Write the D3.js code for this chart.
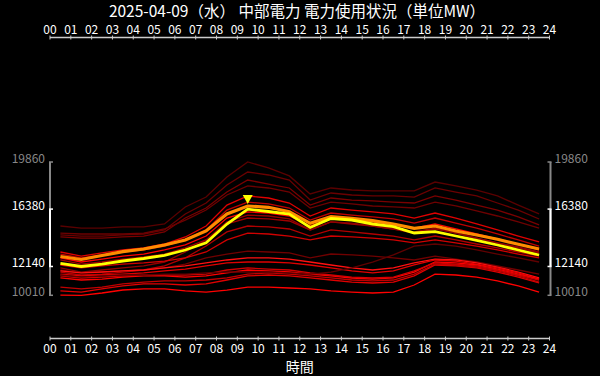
<!DOCTYPE html>
<html>
<head>
<meta charset="utf-8">
<script src="https://cdn.jsdelivr.net/npm/d3@7"></script>
<style>
  body { margin: 0; background: #000; }
  svg { display: block; font-family: "Noto Sans CJK JP", "Noto Sans", sans-serif; }
</style>
</head>
<body>
<div id="chart"></div>
<script>
const title = '2025-04-09（水） 中部電力 電力使用状況（単位MW）';
const xTitle = '時間';
const hourLabels = ['00','01','02','03','04','05','06','07','08','09','10','11','12',
  '13','14','15','16','17','18','19','20','21','22','23','24'];
// hourly values are plotted at the middle of each hour
const slots = [0.5,1.5,2.5,3.5,4.5,5.5,6.5,7.5,8.5,9.5,10.5,11.5,12.5,13.5,14.5,15.5,16.5,17.5,18.5,19.5,20.5,21.5,22.5,23.5];

// overall range (grey bracket) and today's range (white bracket)
const allRange = [10010, 19860];
const todayRange = [12140, 16380];

// today actual (yellow)
const today = [12375,12140,12320,12545,12730,12966,13358,13897,15279,16380,16202,16018,15020,15685,
  15574,15279,15079,14614,14710,14392,14060,13727,13358,12988];
// forecast (orange)
const forecast = [12877,12656,12951,13232,13432,13727,14097,14762,16018,16609,16513,16188,15331,15818,
  15700,15523,15279,14961,15131,14762,14466,14148,13779,13432];

// past days (red)
const pastDays = [
  [15130,14980,14980,15060,15060,15280,16540,17270,18750,19860,19420,18830,17500,17940,17790,17720,17720,17720,18380,18090,17790,17350,16680,16020],
  [14470,14390,14390,14470,14540,14840,16020,16830,18160,19120,18900,18530,17050,17570,17420,17350,17350,17270,17940,17640,17350,16830,16310,15650],
  [14320,14240,14240,14320,14390,14690,15720,16460,17640,18530,18230,17940,16680,17200,17050,16980,16900,16830,17350,17050,16680,16310,15800,15210],
  [14610,14540,14540,14540,14610,14910,15570,16310,17420,18090,17940,17640,16460,16900,16760,16610,16540,16460,16900,16610,16240,15870,15430,14980],
  [13210,12910,13140,13360,13510,13800,14320,15130,16680,17350,17200,16830,15870,16460,16310,16170,16020,15720,16090,15720,15280,14840,14390,13950],
  [13060,12770,12990,13210,13360,13650,14100,14840,16310,16900,16760,16460,15570,16090,15940,15800,15650,15350,15720,15350,14980,14540,14100,13650],
  [12770,12470,12690,12910,13060,13360,13730,14390,15720,16170,16090,15870,15130,15720,15570,15430,15210,14980,15280,14910,14540,14170,13800,13360],
  [12620,12320,12470,12690,12840,13060,13510,14100,15280,15720,15650,15500,14840,15430,15280,15130,14910,14690,14980,14610,14240,13880,13510,13140],
  [12030,11730,11880,12030,12180,12470,13210,14100,15430,15940,15870,15650,14840,15430,15350,15130,14910,14610,14910,14610,14240,13880,13580,13210],
  [11730,11510,11580,11730,11880,12180,12770,13650,14690,15130,15060,14910,14390,14840,14690,14540,14390,14100,14390,14100,13800,13510,13210,12910],
  [12250,12030,12180,12320,12400,12540,12770,13210,14100,14610,14540,14390,14100,14390,14320,14240,14100,13880,14100,13880,13650,13360,13060,12770],
  [11880,11660,11730,11810,11880,12030,12320,12770,13060,13280,13210,13140,12770,13060,12990,12910,12770,12620,12910,12690,12470,12180,11880,11580],
  [11810,11660,11730,11810,11880,12030,12180,12400,12620,12770,12770,12690,12470,12250,12030,11880,12030,12400,12690,12620,12400,12100,11730,11290],
  [11580,11440,11510,11580,11660,11810,11950,12180,12400,12470,12470,12400,12250,12030,11810,11660,11810,12250,12620,12540,12320,12030,11660,11210],
  [10030,10010,10180,10400,10480,10480,10330,10250,10400,10620,10620,10550,10480,10330,10250,10180,10250,10770,11580,11510,11360,11070,10700,10250],
  [10330,10250,10480,10700,10850,10850,10770,10850,11140,11440,11510,11440,11290,11140,10990,10920,10990,11440,12250,12180,12030,11730,11360,10920],
  [10620,10480,10620,10850,10990,11070,11070,11140,11290,11580,11660,11580,11440,11290,11140,11070,11140,11580,12320,12250,12100,11810,11440,10990],
  [11290,11140,11210,11360,11440,11440,11360,11440,11660,11880,11810,11730,11580,11440,11290,11210,11290,11730,12470,12400,12250,11950,11580,11210],
  [11440,11290,11360,11440,11510,11510,11510,11580,11880,12030,11950,11880,11660,11510,11360,11290,11360,11810,12400,12320,12180,11880,11510,11140],
  [11510,11360,11440,11510,11510,11580,11580,11660,11730,11730,11730,11660,11580,11730,12030,12470,12990,13650,13800,13650,13360,13060,12770,12470]
];
const pastColors = ['#5a0000','#6a0000','#7a0000','#6e0000','#e00000','#c00000','#ff0000','#a00000','#900000','#b00000',
  '#d00000','#700000','#ff1010','#e00000','#ff0000','#e00000','#c00000','#ff0000','#d00000','#600000'];

const W = 600, H = 376;
const svg = d3.select('#chart').append('svg')
  .attr('width', W)
  .attr('height', H)
  .style('background', '#000');

const x = d3.scaleLinear().domain([0, 24]).range([50, 549.5]);
const y = d3.scaleLinear().domain(allRange).range([295.3, 162]);

svg.append('text')
  .attr('x', 297).attr('y', 17)
  .attr('text-anchor', 'middle')
  .attr('fill', '#fff')
  .style('font-size', '15.5px')
  .text(title);

// hour axes
function hourAxis(g, yPos, top){
  g.append('line')
    .attr('x1', x(0)).attr('x2', x(24))
    .attr('y1', yPos).attr('y2', yPos)
    .attr('stroke', '#ccc').attr('stroke-width', 1.5);
  g.selectAll('.tk').data(hourLabels).enter().append('line')
    .attr('x1', (d,i) => x(i)).attr('x2', (d,i) => x(i))
    .attr('y1', yPos - 2).attr('y2', yPos + 2)
    .attr('stroke', '#ccc');
  g.selectAll('.lb').data(hourLabels).enter().append('text')
    .attr('x', (d,i) => x(i))
    .attr('y', top ? yPos - 3.5 : yPos + 14.5)
    .attr('text-anchor', 'middle')
    .attr('fill', '#fff')
    .style('font-size', '12px')
    .text(d => d);
}
hourAxis(svg.append('g'), 37.5, true);
hourAxis(svg.append('g'), 338.5, false);

svg.append('text')
  .attr('x', x(12)).attr('y', 371.5)
  .attr('text-anchor', 'middle')
  .attr('fill', '#fff')
  .style('font-size', '14px')
  .text(xTitle);

// range brackets on both sides
function bracket(xPos, dir, range, color, width){
  const g = svg.append('g');
  g.append('line')
    .attr('x1', xPos).attr('x2', xPos)
    .attr('y1', y(range[0])).attr('y2', y(range[1]))
    .attr('stroke', color).attr('stroke-width', width);
  range.forEach(v => {
    g.append('line')
      .attr('x1', xPos - dir).attr('x2', xPos + dir * 3)
      .attr('y1', y(v)).attr('y2', y(v))
      .attr('stroke', color).attr('stroke-width', 1.5);
    g.append('text')
      .attr('x', dir > 0 ? xPos - 5 : xPos + 4)
      .attr('y', y(v) + 1)
      .attr('text-anchor', dir > 0 ? 'end' : 'start')
      .attr('fill', color)
      .style('font-size', '12px')
      .text(v);
  });
}
bracket(50, 1, allRange, '#888', 2);
bracket(50, 1, todayRange, '#fff', 2);
bracket(550.5, -1, allRange, '#888', 2);
bracket(550.5, -1, todayRange, '#fff', 2);

const line = d3.line()
  .x((d,i) => x(slots[i]))
  .y(d => y(d));

svg.append('g').selectAll('path')
  .data(pastDays)
  .enter().append('path')
  .attr('d', line)
  .attr('fill', 'none')
  .attr('stroke', (d,i) => pastColors[i])
  .attr('stroke-width', 1.3);

svg.append('path')
  .attr('d', line(forecast))
  .attr('fill', 'none')
  .attr('stroke', '#ff8c00')
  .attr('stroke-width', 3.2);

svg.append('path')
  .attr('d', line(today))
  .attr('fill', 'none')
  .attr('stroke', '#ffff00')
  .attr('stroke-width', 2.8);

// peak marker
const peakIdx = today.indexOf(d3.max(today));
const px = x(slots[peakIdx]), py = y(today[peakIdx]) - 5;
svg.append('path')
  .attr('d', `M${px - 5},${py - 9}L${px + 5},${py - 9}L${px},${py}Z`)
  .attr('fill', '#ffff00');
</script>
</body>
</html>
